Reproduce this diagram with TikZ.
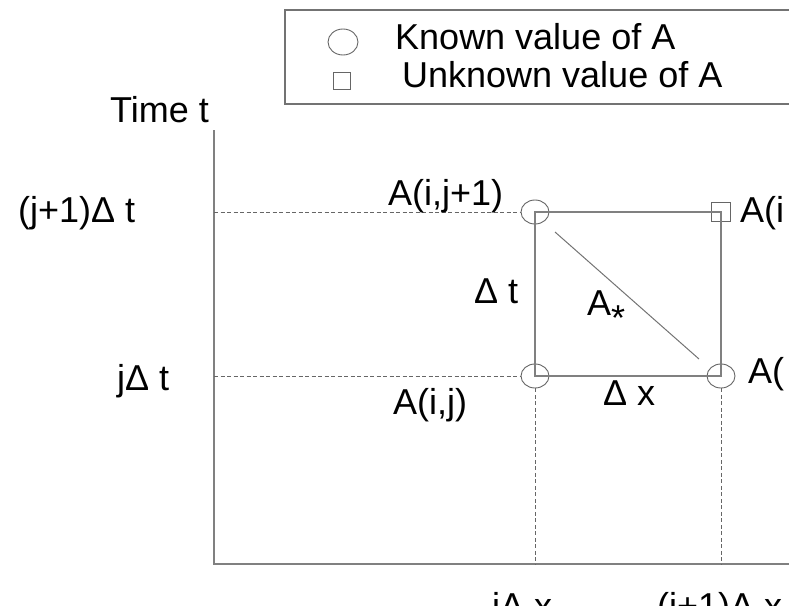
\documentclass[tikz,border=0pt]{standalone}
\usepackage{fontspec}
\setmainfont{Liberation Sans}
\usetikzlibrary{positioning,shapes.geometric}

\begin{document}
\begin{tikzpicture}[x=1pt,y=-1pt]
            \tikzset{
                known/.style={
                    draw,
                    black!60,
                    ellipse,
                    line width=0.9pt,
                    minimum width=28pt,
                    minimum height=24pt,
                    inner sep=0pt
                }
            }
            \tikzset{
                unknown/.style={
                    draw,
                    black!60,
                    rectangle,
                    line width=0.9pt,
                    minimum size=19pt,
                    inner sep=0pt
                }
            }
            \tikzset{
                lbl/.style={
                    anchor=base west,
                    inner sep=0pt,
                    font=\fontsize{36}{40}\selectfont
                }
            }
            \tikzset{
                axis/.style={
                    black!50,
                    line width=2pt
                }
            }
            \tikzset{
                cell/.style={
                    black!50,
                    line width=1.6pt
                }
            }
            \tikzset{
                guide/.style={
                    black!60,
                    line width=0.8pt,
                    dash pattern=on 4pt off 2.5pt
                }
            }

            \clip (0,0) rectangle (789,605);

            % legend
            \draw[black!55, line width=1.6pt] (285,10) rectangle (810,104);
            \node[known, minimum width=30pt, minimum height=26pt] (LK) at (343,42) {};
            \node[unknown, minimum size=17pt] (LU) at (342,81) {};
            \node[lbl] (LKt) at (395,49) {Known value of A};
            \node[lbl] (LUt) at (402,87) {Unknown value of A};

            % axes
            \coordinate (O) at (214,564);
            \coordinate (T) at (214,130);
            \coordinate (X) at (810,564);
            \draw[axis] (T) -- (O) -- (X);
            \node[lbl] (Tt) at (110,122) {Time t};

            % grid points
            \node[known] (Aij) at (535,376) {};
            \node[known] (Aij1) at (535,212) {};
            \node[known] (Ai1j) at (721,376) {};
            \node[unknown] (Ai1j1) at (721,212) {};

            \draw[cell] (Aij.center) -- (Aij1.center) -- (Ai1j1.center) -- (Ai1j.center) -- cycle;
            \draw[black!55, line width=1pt] (555,232) -- (699,359);

            % guides to the axes
            \coordinate (tj) at (214,376);
            \coordinate (tj1) at (214,212);
            \coordinate (xi) at (535,564);
            \coordinate (xi1) at (721,564);
            \draw[guide] (tj1) -- (Aij1);
            \draw[guide] (tj) -- (Aij);
            \draw[guide] (Aij) -- (xi);
            \draw[guide] (Ai1j) -- (xi1);

            % labels
            \node[lbl] (ltj1) at (18,222) {(j+1)Δ t};
            \node[lbl] (ltj) at (117,390) {jΔ t};
            \node[lbl] (lAij1) at (388,205) {A(i,j+1)};
            \node[lbl] (lAij) at (393,414) {A(i,j)};
            \node[lbl] (ldt) at (474,303) {Δ t};
            \node[lbl] (ldx) at (603,405) {Δ x};
            \node[lbl] (lAs) at (587,315) {A\raisebox{-15pt}{*}};
            \node[lbl] (lAi1j1) at (740,222) {A(i};
            \node[lbl] (lAi1j) at (748,383) {A(};
            \node[lbl] (lxi) at (492,618) {iΔ x};
            \node[lbl] (lxi1) at (657,618) {(i+1)Δ x};
        \end{tikzpicture}
\end{document}
